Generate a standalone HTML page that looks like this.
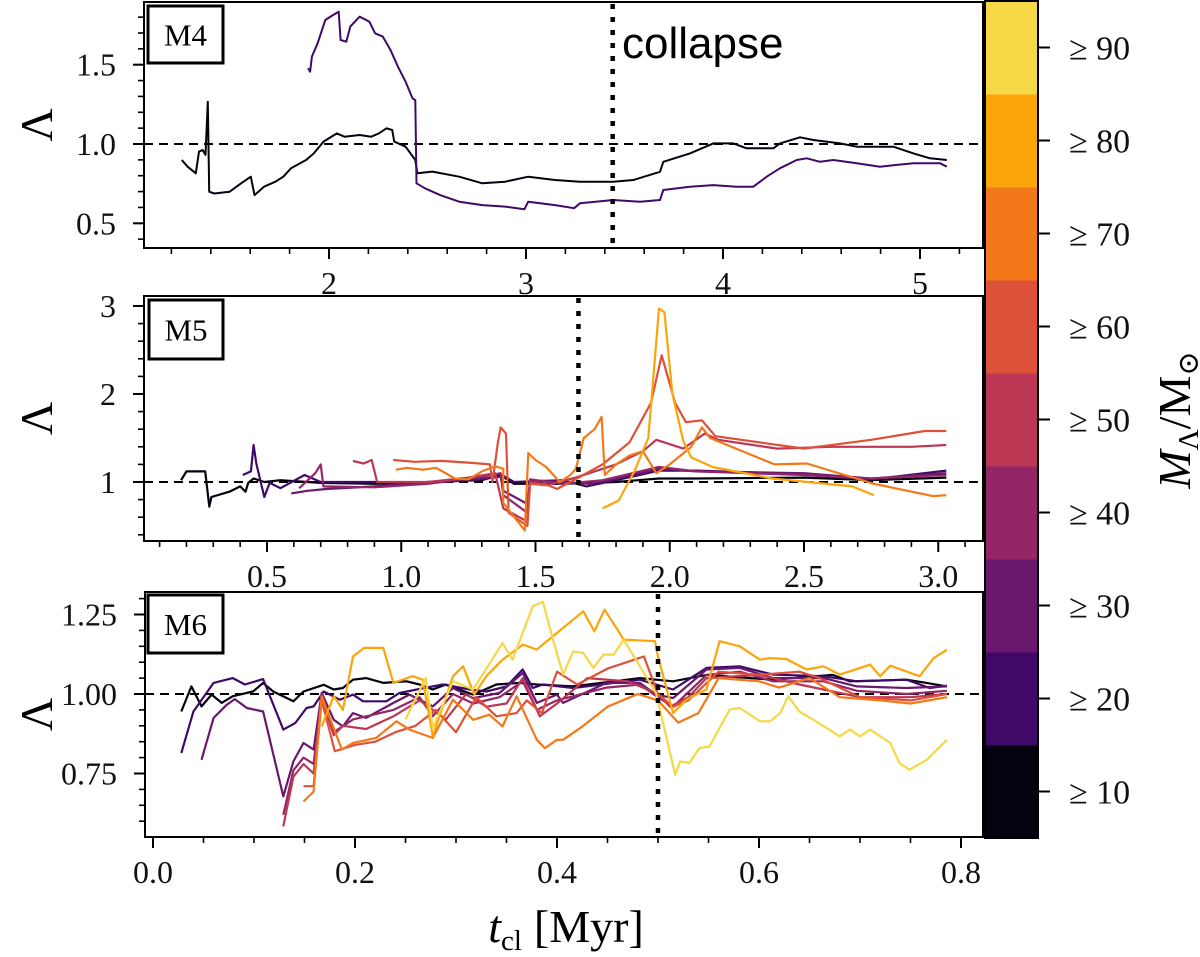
<!DOCTYPE html>
<html><head><meta charset="utf-8">
<style>
html,body{margin:0;padding:0;background:#fff;}
svg{display:block;font-family:"Liberation Serif","DejaVu Serif",serif;}
</style></head>
<body>
<svg id="chart" xmlns="http://www.w3.org/2000/svg" width="1200" height="957" viewBox="0 0 1200 957"></svg>
<script>
// ---------- data ----------
const binLabels = ["≥ 10","≥ 20","≥ 30","≥ 40","≥ 50","≥ 60","≥ 70","≥ 80","≥ 90"];
const binColors = ["#03020e","#410967","#6a176e","#932667","#bc3754","#dd513a","#f37819","#fca50a","#f6d746"];
const collapseTimes = [3.44, 1.66, 0.50];

// M4 series [t, lambda]
const m4_bin10 = [[1.253,0.899],[1.282,0.857],[1.324,0.815],[1.340,0.952],[1.359,0.962],[1.373,0.931],[1.385,1.267],[1.392,0.699],[1.418,0.688],[1.496,0.699],[1.554,0.752],[1.603,0.794],[1.622,0.678],[1.670,0.731],[1.728,0.762],[1.768,0.794],[1.807,0.847],[1.884,0.899],[1.923,0.941],[1.972,1.015],[2.040,1.067],[2.078,1.046],[2.156,1.057],[2.214,1.046],[2.253,1.067],[2.292,1.099],[2.321,1.088],[2.331,1.015],[2.389,0.983],[2.438,0.899],[2.448,0.815],[2.525,0.826],[2.661,0.794],[2.778,0.752],[2.894,0.762],[3.011,0.794],[3.147,0.773],[3.274,0.762],[3.443,0.762],[3.545,0.773],[3.680,0.825],[3.697,0.888],[3.832,0.941],[3.951,1.004],[4.053,1.004],[4.120,0.973],[4.256,0.973],[4.289,1.004],[4.391,1.042],[4.459,1.025],[4.594,1.004],[4.679,0.983],[4.865,0.983],[4.967,0.941],[5.051,0.910],[5.136,0.899]];
const m4_bin20 = [[1.894,1.477],[1.904,1.456],[1.913,1.551],[1.942,1.635],[1.981,1.782],[2.020,1.813],[2.049,1.834],[2.059,1.656],[2.088,1.645],[2.108,1.740],[2.156,1.803],[2.205,1.771],[2.234,1.698],[2.273,1.677],[2.312,1.593],[2.350,1.487],[2.389,1.393],[2.424,1.288],[2.438,1.277],[2.444,0.752],[2.486,0.721],[2.564,0.678],[2.661,0.636],[2.778,0.615],[2.894,0.605],[2.992,0.588],[3.011,0.636],[3.147,0.615],[3.244,0.595],[3.274,0.626],[3.443,0.647],[3.578,0.636],[3.680,0.647],[3.697,0.710],[3.832,0.731],[3.951,0.741],[4.069,0.731],[4.154,0.731],[4.222,0.794],[4.289,0.847],[4.374,0.899],[4.425,0.910],[4.493,0.888],[4.560,0.899],[4.679,0.878],[4.797,0.857],[4.882,0.868],[4.967,0.878],[5.102,0.878],[5.136,0.857]];

// M5 series
const m5_bin10 = [[0.18,1.02],[0.20,1.12],[0.27,1.12],[0.285,0.72],[0.293,0.83],[0.36,0.89],[0.40,0.95],[0.42,0.89],[0.43,0.99],[0.45,1.04],[0.49,1.0],[0.55,1.02],[0.7,0.99],[0.9,0.98],[1.1,1.0],[1.3,1.02],[1.37,1.08],[1.42,0.98],[1.6,0.98],[1.8,1.0],[1.96,1.04],[2.1,1.04],[2.5,1.05],[2.75,1.02],[3.03,1.05]];
const m5_bin20 = [[0.41,1.08],[0.44,1.12],[0.45,1.42],[0.46,1.21],[0.49,0.83],[0.51,0.99],[0.55,0.93],[0.64,1.08],[0.70,1.0],[0.9,1.0],[1.1,0.99],[1.3,1.03],[1.38,1.07],[1.42,1.0],[1.6,1.02],[1.69,0.95],[1.8,1.02],[1.96,1.13],[2.1,1.13],[2.4,1.10],[2.75,1.03],[3.03,1.13]];
const m5_bin30 = [[0.59,0.87],[0.65,0.9],[0.72,0.92],[0.9,0.95],[1.1,1.0],[1.3,1.04],[1.37,1.06],[1.38,0.9],[1.47,0.75],[1.48,1.02],[1.6,1.0],[1.7,0.98],[1.8,1.04],[1.96,1.15],[2.1,1.12],[2.5,1.10],[2.75,1.04],[3.03,1.10]];
const m5_bin40 = [[0.62,0.93],[0.68,1.1],[0.70,1.2],[0.71,0.95],[0.9,0.94],[1.1,0.98],[1.3,1.06],[1.37,1.1],[1.38,0.85],[1.47,0.65],[1.48,1.03],[1.6,0.98],[1.75,1.02],[1.96,1.17],[2.1,1.12],[2.5,1.08],[2.75,1.04],[3.03,1.08]];
const m5_bin50 = [[0.82,1.24],[0.86,1.21],[0.89,1.25],[0.91,1.0],[1.1,1.0],[1.25,1.05],[1.35,1.1],[1.38,0.7],[1.47,0.55],[1.48,1.0],[1.55,0.97],[1.65,1.05],[1.8,1.2],[1.9,1.35],[1.95,1.48],[2.05,1.38],[2.13,1.55],[2.18,1.48],[2.4,1.38],[2.6,1.40],[2.9,1.40],[3.03,1.42]];
const m5_bin60 = [[0.97,1.25],[1.05,1.23],[1.15,1.24],[1.25,1.22],[1.33,1.2],[1.34,1.0],[1.36,1.45],[1.37,1.62],[1.39,1.55],[1.40,0.65],[1.47,0.5],[1.48,0.98],[1.55,0.96],[1.58,0.92],[1.66,1.05],[1.75,1.2],[1.85,1.45],[1.93,1.9],[1.97,2.44],[2.02,1.9],[2.06,1.68],[2.12,1.7],[2.17,1.52],[2.5,1.38],[2.75,1.48],[2.95,1.58],[3.03,1.58]];
const m5_bin70 = [[0.98,1.14],[1.02,1.16],[1.08,1.14],[1.13,1.16],[1.2,1.04],[1.25,1.03],[1.3,1.12],[1.35,1.18],[1.38,1.15],[1.38,0.76],[1.46,0.45],[1.473,1.33],[1.50,1.25],[1.54,1.17],[1.59,1.0],[1.63,1.08],[1.65,1.15],[1.68,1.5],[1.72,1.6],[1.746,1.74],[1.758,1.08],[1.8,1.2],[1.85,1.3],[1.9,1.35],[1.95,1.1],[2.0,1.2],[2.08,1.4],[2.12,1.62],[2.15,1.5],[2.39,1.2],[2.51,1.21],[2.76,0.98],[2.98,0.84],[3.03,0.85]];
const m5_bin80 = [[1.75,0.70],[1.81,0.79],[1.87,1.13],[1.92,1.5],[1.96,2.97],[1.98,2.93],[2.01,2.0],[2.05,1.47],[2.08,1.28],[2.16,1.17],[2.38,1.04],[2.68,0.95],[2.76,0.85]];

// M6 series
const m6_bin10 = [[0.028,0.945],[0.038,1.024],[0.048,0.961],[0.058,0.998],[0.068,0.972],[0.079,0.993],[0.099,1.008],[0.109,1.035],[0.119,1.008],[0.139,0.977],[0.149,1.008],[0.169,1.029],[0.179,1.014],[0.188,1.019],[0.198,1.045],[0.211,1.05],[0.228,1.035],[0.251,1.04],[0.264,1.03],[0.277,1.014],[0.290,1.03],[0.317,0.998],[0.340,1.03],[0.363,1.035],[0.380,1.03],[0.416,1.024],[0.482,1.05],[0.515,1.04],[0.548,1.06],[0.614,1.045],[0.673,1.06],[0.690,1.04],[0.746,1.045],[0.766,1.035],[0.786,1.024]];
const m6_bin20 = [[0.028,0.814],[0.040,0.945],[0.060,1.035],[0.079,1.05],[0.091,1.03],[0.109,1.047],[0.129,0.888],[0.141,0.909],[0.152,0.956],[0.159,0.961],[0.169,1.008],[0.185,0.982],[0.198,0.998],[0.208,0.977],[0.231,0.977],[0.244,1.003],[0.264,1.016],[0.287,1.03],[0.314,1.014],[0.330,1.008],[0.350,1.024],[0.366,1.077],[0.376,1.019],[0.386,1.03],[0.416,1.019],[0.482,1.045],[0.515,1.014],[0.548,1.082],[0.581,1.087],[0.614,1.061],[0.664,1.056],[0.697,1.04],[0.746,1.045],[0.769,1.019],[0.786,1.026]];
const m6_bin30 = [[0.048,0.793],[0.060,0.925],[0.073,0.966],[0.081,0.984],[0.093,0.956],[0.109,0.945],[0.129,0.678],[0.139,0.788],[0.149,0.846],[0.159,0.825],[0.167,1.003],[0.179,0.919],[0.188,0.898],[0.198,0.94],[0.211,0.925],[0.238,0.972],[0.254,0.998],[0.277,0.961],[0.297,1.019],[0.317,0.987],[0.343,1.003],[0.366,1.066],[0.380,0.972],[0.400,0.998],[0.406,0.972],[0.449,1.035],[0.482,1.035],[0.498,0.998],[0.515,0.987],[0.548,1.077],[0.581,1.082],[0.614,1.05],[0.664,1.05],[0.697,1.024],[0.746,1.019],[0.786,1.024]];
const m6_bin40 = [[0.129,0.62],[0.139,0.76],[0.149,0.8],[0.159,0.78],[0.167,1.0],[0.179,0.88],[0.198,0.92],[0.238,0.95],[0.264,0.99],[0.277,0.93],[0.297,1.0],[0.317,0.97],[0.343,0.99],[0.366,1.04],[0.38,0.95],[0.40,0.98],[0.449,1.02],[0.482,1.03],[0.50,0.99],[0.515,0.96],[0.548,1.06],[0.581,1.07],[0.614,1.04],[0.664,1.04],[0.697,1.01],[0.746,1.0],[0.786,1.01]];
const m6_bin50 = [[0.129,0.584],[0.139,0.74],[0.149,0.78],[0.159,0.75],[0.167,0.99],[0.179,0.87],[0.188,0.9],[0.211,0.89],[0.238,0.93],[0.264,0.98],[0.29,0.92],[0.31,1.0],[0.33,0.96],[0.35,0.97],[0.366,1.05],[0.383,0.93],[0.40,0.97],[0.43,1.05],[0.47,1.04],[0.50,1.0],[0.512,0.96],[0.53,0.99],[0.548,1.05],[0.60,1.06],[0.64,1.03],[0.70,0.99],[0.75,0.99],[0.786,1.0]];
const m6_bin60 = [[0.149,0.71],[0.159,0.71],[0.167,0.98],[0.18,0.82],[0.20,0.84],[0.22,0.85],[0.24,0.88],[0.26,0.9],[0.28,0.95],[0.30,0.88],[0.32,0.99],[0.34,0.93],[0.36,0.94],[0.37,0.98],[0.385,0.94],[0.40,1.07],[0.42,1.03],[0.45,1.08],[0.486,1.118],[0.50,1.0],[0.515,0.96],[0.53,0.98],[0.56,1.07],[0.60,1.06],[0.64,1.07],[0.66,1.05],[0.70,0.99],[0.75,0.98],[0.786,1.0]];
const m6_bin70 = [[0.149,0.662],[0.159,0.693],[0.167,0.993],[0.187,0.825],[0.198,0.846],[0.221,0.862],[0.241,0.914],[0.254,0.888],[0.277,0.862],[0.297,0.982],[0.317,0.919],[0.333,0.935],[0.346,0.898],[0.360,0.993],[0.380,0.856],[0.388,0.83],[0.40,0.856],[0.406,0.856],[0.426,0.90],[0.45,0.96],[0.48,1.0],[0.50,0.98],[0.52,0.91],[0.54,0.94],[0.56,1.05],[0.60,1.04],[0.62,1.02],[0.65,1.05],[0.68,0.99],[0.72,0.98],[0.75,0.97],[0.786,0.99]];
const m6_bin80 = [[0.167,0.898],[0.179,0.993],[0.188,0.95],[0.198,1.118],[0.209,1.145],[0.228,1.145],[0.238,1.035],[0.257,1.056],[0.267,1.045],[0.277,0.867],[0.297,1.056],[0.307,1.087],[0.318,0.998],[0.33,1.056],[0.346,1.108],[0.366,1.155],[0.38,1.14],[0.426,1.26],[0.437,1.197],[0.447,1.265],[0.459,1.207],[0.466,1.171],[0.497,1.166],[0.500,1.118],[0.515,0.94],[0.528,0.982],[0.548,1.014],[0.561,1.166],[0.581,1.15],[0.601,1.108],[0.611,1.113],[0.627,1.11],[0.647,1.077],[0.664,1.087],[0.680,1.061],[0.710,1.092],[0.720,1.056],[0.730,1.089],[0.759,1.056],[0.773,1.113],[0.786,1.139]];
const m6_bin90 = [[0.25,0.92],[0.27,1.05],[0.277,0.893],[0.297,1.04],[0.317,1.014],[0.346,1.16],[0.356,1.108],[0.376,1.276],[0.386,1.29],[0.396,1.171],[0.406,1.061],[0.416,1.134],[0.426,1.129],[0.436,1.082],[0.446,1.124],[0.456,1.124],[0.466,1.171],[0.498,1.003],[0.517,0.746],[0.522,0.788],[0.531,0.783],[0.541,0.83],[0.551,0.835],[0.571,0.951],[0.581,0.956],[0.601,0.914],[0.611,0.914],[0.621,0.94],[0.629,0.993],[0.640,0.945],[0.654,0.919],[0.680,0.867],[0.690,0.888],[0.700,0.867],[0.710,0.888],[0.730,0.846],[0.739,0.783],[0.749,0.762],[0.766,0.793],[0.786,0.856]];

// tick values
const m4XTicks = [2,3,4,5];
const m4YTicks = [0.5,1.0,1.5];
const m5XTicks = [0.5,1.0,1.5,2.0,2.5,3.0];
const m5YTicks = [1,2,3];
const m6XTicks = [0.0,0.2,0.4,0.6,0.8];
const m6YTicks = [0.75,1.00,1.25];

// ---------- layout ----------
const NS="http://www.w3.org/2000/svg";
const svg=document.getElementById('chart');
function mk(tag,attrs,parent){const e=document.createElementNS(NS,tag);for(const k in attrs)e.setAttribute(k,attrs[k]);(parent||svg).appendChild(e);return e;}

const panels=[
 {key:'m4',label:'M4',l:144,r:983,t:2,b:248,xp:329,x0:2,xs:197,yp:144,ys:158.6,
  xt:m4XTicks,xd:0,xmin:[1.2,5.2,0.2],yt:m4YTicks,yd:1,ymin:[0.4,1.8,0.1],
  series:[m4_bin10,m4_bin20],bins:[0,1],lw:2,box:[148,6,75,57]},
 {key:'m5',label:'M5',l:144,r:983,t:296,b:541,xp:267,x0:0.5,xs:268.5,yp:482,ys:88,
  xt:m5XTicks,xd:1,xmin:[0.1,3.1,0.1],yt:m5YTicks,yd:0,ymin:[0.4,3.0,0.2],
  series:[m5_bin10,m5_bin20,m5_bin30,m5_bin40,m5_bin50,m5_bin60,m5_bin70,m5_bin80],bins:[0,1,2,3,4,5,6,7],lw:2.2,box:[149,300,74,59]},
 {key:'m6',label:'M6',l:145,r:983,t:592,b:837,xp:153,x0:0,xs:1010,yp:694,ys:318,
  xt:m6XTicks,xd:1,xmin:[0,0.8,0.05],yt:m6YTicks,yd:2,ymin:[0.6,1.3,0.05],
  series:[m6_bin10,m6_bin20,m6_bin30,m6_bin40,m6_bin50,m6_bin60,m6_bin70,m6_bin80,m6_bin90],bins:[0,1,2,3,4,5,6,7,8],lw:2.2,box:[148,595,75,58]}
];

panels.forEach((p,pi)=>{
  const X=v=>p.xp+(v-p.x0)*p.xs;
  const Y=v=>p.yp-(v-1)*p.ys;
  const g=mk('g',{});
  
  
  const cp=mk('clipPath',{id:'clip'+pi},g);
  mk('rect',{x:p.l,y:p.t,width:p.r-p.l,height:p.b-p.t},cp);
  const ref=mk('line',{x1:p.l,x2:p.r,y1:Y(1),y2:Y(1),stroke:'#000','stroke-width':2,'stroke-dasharray':'9,6'},g);
  
  
  p.series.forEach((s,si)=>{
    const d=s.map((pt,i)=>(i?'L':'M')+X(pt[0]).toFixed(1)+','+Y(pt[1]).toFixed(1)).join('');
    const path=mk('path',{d:d,fill:'none',stroke:binColors[p.bins[si]],'stroke-width':p.lw,'stroke-linejoin':'round','clip-path':'url(#clip'+pi+')'},g);
    
    
  });
  const cx=X(collapseTimes[pi]);
  const cl=mk('line',{x1:cx,x2:cx,y1:p.t+2,y2:p.b,stroke:'#000','stroke-width':4.5,'stroke-dasharray':'5,8'},g);
  
  
  const fr=mk('rect',{x:p.l,y:p.t,width:p.r-p.l,height:p.b-p.t,fill:'none',stroke:'#000','stroke-width':2},g);
  
  
  for(let v=p.xmin[0];v<=p.xmin[1]+1e-9;v+=p.xmin[2]){const x=X(v);if(x<p.l-1||x>p.r+1)continue;mk('line',{x1:x,x2:x,y1:p.b,y2:p.b+6,stroke:'#000','stroke-width':1.6},g);}
  for(let v=p.ymin[0];v<=p.ymin[1]+1e-9;v+=p.ymin[2]){const y=Y(v);if(y<p.t-1||y>p.b+1)continue;mk('line',{x1:p.l-6,x2:p.l,y1:y,y2:y,stroke:'#000','stroke-width':1.6},g);}
  p.xt.forEach(v=>{const x=X(v);mk('line',{x1:x,x2:x,y1:p.b,y2:p.b+11,stroke:'#000','stroke-width':2},g);
    const t=mk('text',{x:x,y:p.b+46,'font-size':32,'text-anchor':'middle',fill:'#111'},g);t.textContent=v.toFixed(p.xd);
    });
  p.yt.forEach(v=>{const y=Y(v);mk('line',{x1:p.l-11,x2:p.l,y1:y,y2:y,stroke:'#000','stroke-width':2},g);
    const t=mk('text',{x:p.l-28,y:y+11,'font-size':32,'text-anchor':'end',fill:'#111'},g);t.textContent=v.toFixed(p.yd);
    });
  const cy=(p.t+p.b)/2;
  const yl=mk('text',{x:0,y:0,'font-size':46,'text-anchor':'middle',transform:'translate(52,'+cy+') rotate(-90)',fill:'#000'},g);
  yl.textContent='Λ';
  
  
  const b=p.box;
  const bx=mk('rect',{x:b[0],y:b[1],width:b[2],height:b[3],fill:'#fff',stroke:'#000','stroke-width':3},g);
  
  
  const bt=mk('text',{x:b[0]+b[2]/2,y:b[1]+b[3]/2+11,'font-size':31,'text-anchor':'middle',fill:'#000'},g);
  bt.textContent=p.label;
  
  
});

const ct=mk('text',{x:622,y:58,'font-size':44,'font-family':'"Liberation Sans",sans-serif',fill:'#000'});
ct.textContent='collapse';



const xt=mk('text',{x:566,y:942,'font-size':46,'text-anchor':'middle',fill:'#000'});


xt.innerHTML='<tspan font-style="italic">t</tspan><tspan font-size="29" dy="8">cl</tspan><tspan dy="-8" dx="12">[Myr]</tspan>';

const cbTop=1,cbBot=838,cbL=985,cbR=1038;
const cbG=mk('g',{});


const bh=(cbBot-cbTop)/binColors.length;
binColors.forEach((c,i)=>{
  const y0=cbBot-(i+1)*bh;
  const r=mk('rect',{x:cbL,y:y0,width:cbR-cbL,height:bh+0.5,fill:c},cbG);
  
  
  const yc=y0+bh/2;
  mk('line',{x1:cbR,x2:cbR+12,y1:yc,y2:yc,stroke:'#000','stroke-width':2},cbG);
  const t=mk('text',{x:1069,y:yc+12,'font-size':34,fill:'#111'},cbG);
  t.textContent=binLabels[i];
  
  
});
mk('rect',{x:cbL,y:cbTop,width:cbR-cbL,height:cbBot-cbTop,fill:'none',stroke:'#000','stroke-width':2},cbG);
const cbl=mk('text',{x:0,y:0,'font-size':46,'text-anchor':'middle',transform:'translate(1190,420) rotate(-90)',fill:'#000'});


cbl.innerHTML='<tspan font-style="italic">M</tspan><tspan font-size="29" dy="8">Λ</tspan><tspan dy="-8">/M</tspan><tspan font-size="29" dy="8">⊙</tspan>';
</script>
</body></html>
